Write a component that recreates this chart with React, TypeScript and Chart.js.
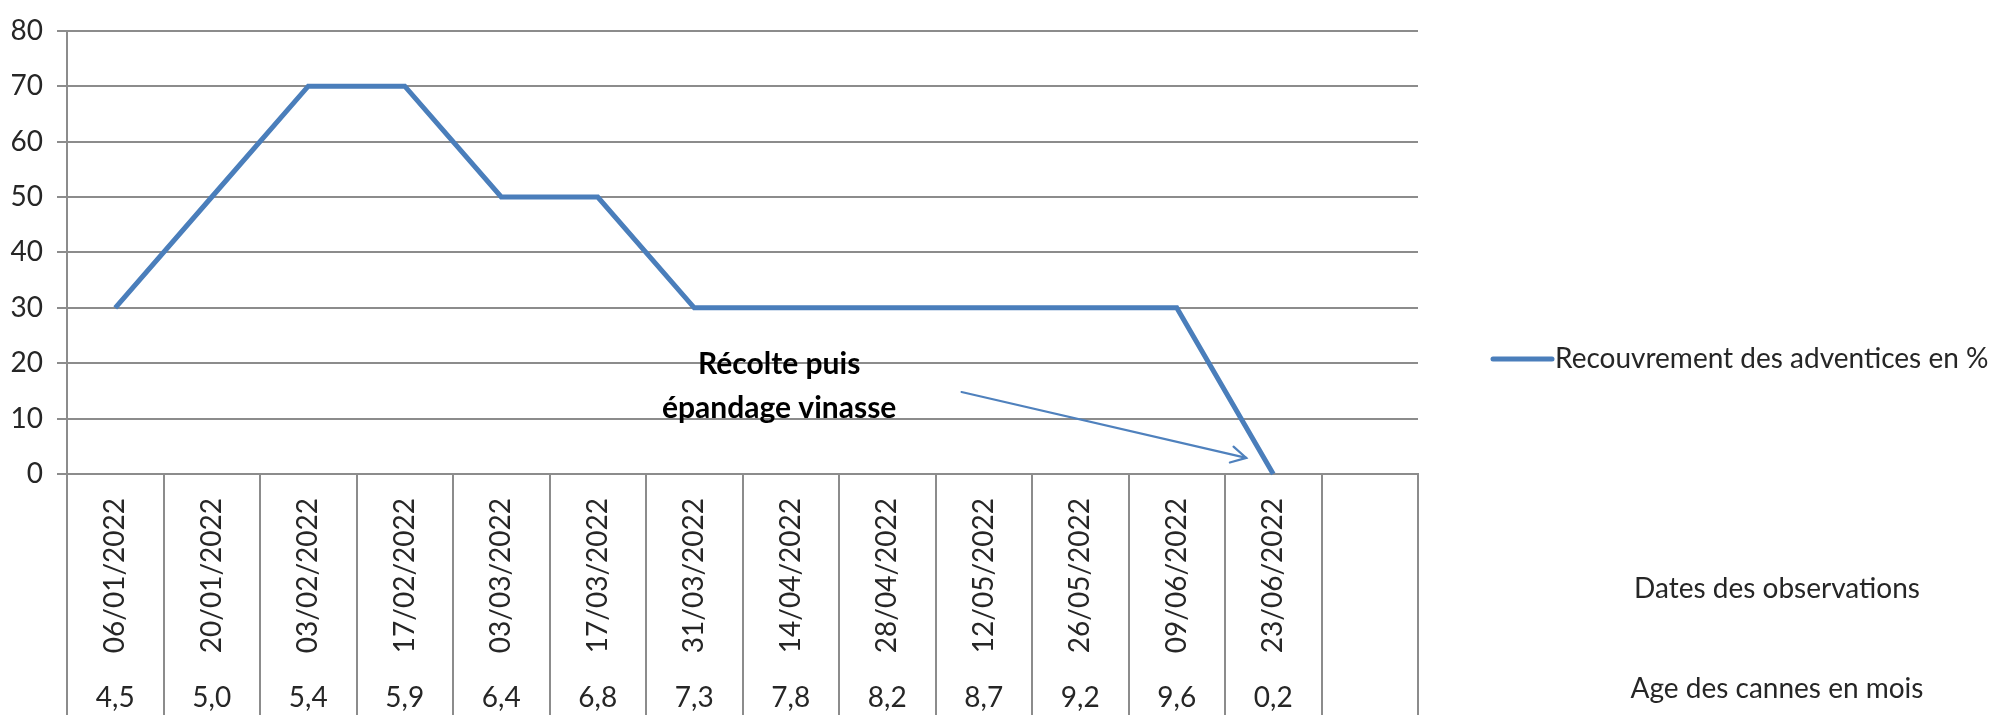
import React, { useEffect, useRef } from 'react';
import { Chart, registerables } from 'chart.js';

Chart.register(...registerables);

// ---- Data ----
const dates = [
  '06/01/2022', '20/01/2022', '03/02/2022', '17/02/2022', '03/03/2022', '17/03/2022', '31/03/2022',
  '14/04/2022', '28/04/2022', '12/05/2022', '26/05/2022', '09/06/2022', '23/06/2022', '',
];
const ages = ['4,5', '5,0', '5,4', '5,9', '6,4', '6,8', '7,3', '7,8', '8,2', '8,7', '9,2', '9,6', '0,2', ''];
const recouvrement: (number | null)[] = [30, 50, 70, 70, 50, 50, 30, 30, 30, 30, 30, 30, 0, null];
const seriesName = 'Recouvrement des adventices en %';
const axisTitles = ['Dates des observations', 'Age des cannes en mois'];
const noteLines = ['Récolte puis', 'épandage vinasse'];
const yMin = 0;
const yMax = 80;
const yStep = 10;

// ---- Annotation placement (in data units: category index, value) ----
const noteTextX = 6.88;
const noteTextY = [19.8, 11.8];
const arrowFrom = [8.77, 14.8];
const arrowTo = [11.72, 2.9];

// ---- Styles ----
const FONT = 'Lato';
const FS = 28;
const FS_NOTE = 30;
const TXT = '#262626';
const GRID = '#8c8c8c';
const BLUE = '#4A7EBB';

const overlay = {
  id: 'overlay',
  afterDraw(chart: any) {
    const { ctx, scales } = chart;
    const x = scales.x;
    const y = scales.y;
    ctx.save();
    // annotation text
    ctx.fillStyle = '#000';
    ctx.font = `bold ${FS_NOTE}px ${FONT}`;
    ctx.textAlign = 'center';
    ctx.textBaseline = 'middle';
    noteLines.forEach((t, i) => {
      ctx.fillText(t, x.getPixelForValue(noteTextX), y.getPixelForValue(noteTextY[i]));
    });
    // arrow
    const x1 = x.getPixelForValue(arrowFrom[0]);
    const y1 = y.getPixelForValue(arrowFrom[1]);
    const x2 = x.getPixelForValue(arrowTo[0]);
    const y2 = y.getPixelForValue(arrowTo[1]);
    ctx.strokeStyle = '#4F81BD';
    ctx.lineWidth = 2.2;
    ctx.lineCap = 'round';
    ctx.beginPath();
    ctx.moveTo(x1, y1);
    ctx.lineTo(x2, y2);
    ctx.stroke();
    const ang = Math.atan2(y2 - y1, x2 - x1);
    const hl = 17;
    const ha = 0.5;
    ctx.beginPath();
    ctx.moveTo(x2 - hl * Math.cos(ang - ha), y2 - hl * Math.sin(ang - ha));
    ctx.lineTo(x2, y2);
    ctx.lineTo(x2 - hl * Math.cos(ang + ha), y2 - hl * Math.sin(ang + ha));
    ctx.stroke();

    // legend
    const ly = 359;
    ctx.strokeStyle = BLUE;
    ctx.lineWidth = 5;
    ctx.beginPath();
    ctx.moveTo(1493, ly);
    ctx.lineTo(1552, ly);
    ctx.stroke();
    ctx.fillStyle = TXT;
    ctx.font = `${FS}px ${FONT}`;
    ctx.textAlign = 'left';
    ctx.fillText(seriesName, 1555, ly);

    // axis titles
    ctx.textAlign = 'center';
    ctx.fillText(axisTitles[0], 1777, 589);
    ctx.fillText(axisTitles[1], 1777, 689);
    ctx.restore();
  },
};

export default function App() {
  const ref = useRef<HTMLCanvasElement | null>(null);
  useEffect(() => {
    if (!ref.current) return;
    const font = { family: FONT, size: FS };
    const chart = new Chart(ref.current, {
      type: 'line',
      data: {
        labels: dates,
        datasets: [
          {
            label: seriesName,
            data: recouvrement,
            borderColor: BLUE,
            backgroundColor: BLUE,
            borderWidth: 5,
            pointRadius: 0,
            pointHoverRadius: 0,
            tension: 0,
            fill: false,
            clip: false as any,
            xAxisID: 'x',
            yAxisID: 'y',
          },
        ],
      },
      options: {
        responsive: false,
        animation: false,
        layout: { padding: { top: 26, right: 586, left: 0, bottom: 0 } },
        plugins: { legend: { display: false }, tooltip: { enabled: false } },
        scales: {
          x: {
            type: 'category',
            position: 'bottom',
            offset: true,
            weight: 0,
            afterFit: (s: any) => { s.height = 190; },
            grid: { offset: true, drawOnChartArea: false, drawTicks: true, tickLength: 190, color: GRID, lineWidth: 2 },
            border: { display: true, color: GRID, width: 2 },
            ticks: { autoSkip: false, minRotation: 90, maxRotation: 90, padding: -166, color: TXT, font },
          },
          x2: {
            type: 'category',
            labels: ages,
            position: 'bottom',
            offset: true,
            weight: 1,
            afterFit: (s: any) => { s.height = 51; },
            grid: { offset: true, drawOnChartArea: false, drawTicks: true, tickLength: 51, color: GRID, lineWidth: 2 },
            border: { display: false },
            ticks: { autoSkip: false, minRotation: 0, maxRotation: 0, padding: -34, color: TXT, font },
          },
          y: {
            type: 'linear',
            min: yMin,
            max: yMax,
            afterFit: (s: any) => { s.width = 67; },
            grid: { color: GRID, lineWidth: 2, tickLength: 10, drawTicks: true },
            border: { display: true, color: GRID, width: 2 },
            ticks: { stepSize: yStep, padding: 14, color: TXT, font },
          },
        } as any,
      },
      plugins: [overlay],
    });
    return () => chart.destroy();
  }, []);
  return (
    <div style={{ position: 'fixed', left: 0, top: 0, width: 2004, height: 715, background: '#fff' }}>
      <canvas ref={ref} width={2004} height={715} style={{ width: 2004, height: 715, display: 'block' }} />
    </div>
  );
}
